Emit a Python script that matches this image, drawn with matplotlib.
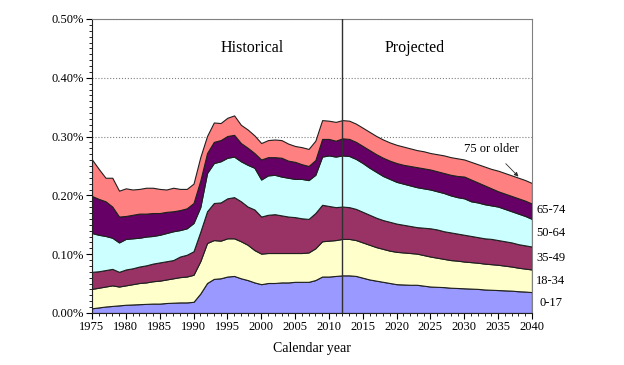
import numpy as np
import matplotlib
matplotlib.use("Agg")
import matplotlib.pyplot as plt
from matplotlib.ticker import MultipleLocator, FuncFormatter

plt.rcParams['font.family'] = ['Liberation Serif', 'DejaVu Serif']

years = list(range(1975, 2041))

# cumulative upper edge of each age band, in percent
edge_0_17 = [
    0.008, 0.0095, 0.011, 0.012, 0.013, 0.014, 0.0145, 0.015, 0.0155, 0.016,
    0.016, 0.017, 0.0175, 0.018, 0.018, 0.019, 0.033, 0.051, 0.058, 0.059,
    0.062, 0.063, 0.059, 0.056, 0.052, 0.049, 0.051, 0.051, 0.052, 0.052,
    0.053, 0.053, 0.053, 0.056, 0.062, 0.062, 0.063, 0.064, 0.064, 0.063,
    0.060, 0.057, 0.055, 0.053, 0.051, 0.049, 0.0485, 0.048, 0.048, 0.0465,
    0.045, 0.0445, 0.044, 0.043, 0.0425, 0.042, 0.0415, 0.041, 0.040, 0.0395,
    0.039, 0.0385, 0.038, 0.037, 0.0365, 0.0355,
]
edge_18_34 = [
    0.041, 0.043, 0.045, 0.047, 0.045, 0.047, 0.049, 0.051, 0.052, 0.054,
    0.055, 0.057, 0.059, 0.061, 0.062, 0.065, 0.088, 0.119, 0.124, 0.123,
    0.127, 0.127, 0.122, 0.116, 0.107, 0.101, 0.102, 0.102, 0.102, 0.102,
    0.102, 0.102, 0.103, 0.110, 0.122, 0.123, 0.124, 0.126, 0.126, 0.124,
    0.120, 0.116, 0.112, 0.109, 0.106, 0.104, 0.103, 0.102, 0.101, 0.0985,
    0.096, 0.094, 0.092, 0.090, 0.089, 0.0875, 0.0865, 0.0855, 0.084, 0.083,
    0.082, 0.0805, 0.079, 0.077, 0.0755, 0.074,
]
edge_35_49 = [
    0.070, 0.071, 0.073, 0.075, 0.070, 0.074, 0.076, 0.079, 0.081, 0.084,
    0.086, 0.088, 0.090, 0.096, 0.099, 0.105, 0.138, 0.173, 0.187, 0.188,
    0.195, 0.197, 0.190, 0.181, 0.176, 0.164, 0.167, 0.168, 0.166, 0.164,
    0.163, 0.161, 0.160, 0.170, 0.184, 0.182, 0.180, 0.181, 0.180, 0.177,
    0.172, 0.167, 0.162, 0.158, 0.155, 0.152, 0.150, 0.148, 0.146, 0.145,
    0.144, 0.142, 0.139, 0.137, 0.135, 0.133, 0.131, 0.129, 0.127, 0.126,
    0.124, 0.122, 0.120, 0.117, 0.115, 0.113,
]
edge_50_64 = [
    0.136, 0.133, 0.131, 0.128, 0.120, 0.126, 0.127, 0.128, 0.130, 0.131,
    0.133, 0.136, 0.139, 0.141, 0.144, 0.153, 0.180, 0.238, 0.255, 0.258,
    0.264, 0.266, 0.258, 0.252, 0.247, 0.227, 0.234, 0.235, 0.232, 0.230,
    0.228, 0.228, 0.226, 0.235, 0.266, 0.268, 0.266, 0.268, 0.267, 0.262,
    0.255, 0.247, 0.240, 0.233, 0.228, 0.223, 0.220, 0.217, 0.214, 0.212,
    0.210, 0.207, 0.204, 0.200, 0.197, 0.195, 0.190, 0.188, 0.185, 0.183,
    0.181, 0.177, 0.173, 0.169, 0.165, 0.160,
]
edge_65_74 = [
    0.199, 0.194, 0.190, 0.181, 0.164, 0.165, 0.167, 0.169, 0.169, 0.170,
    0.170, 0.172, 0.173, 0.175, 0.178, 0.187, 0.225, 0.272, 0.291, 0.294,
    0.301, 0.303, 0.289, 0.281, 0.272, 0.261, 0.265, 0.265, 0.264, 0.259,
    0.257, 0.253, 0.250, 0.260, 0.296, 0.296, 0.293, 0.297, 0.296, 0.291,
    0.284, 0.277, 0.270, 0.264, 0.259, 0.255, 0.252, 0.250, 0.248, 0.246,
    0.244, 0.241, 0.238, 0.235, 0.233, 0.232, 0.227, 0.222, 0.217, 0.212,
    0.207, 0.203, 0.199, 0.195, 0.191, 0.186,
]
edge_75_plus = [
    0.261, 0.245, 0.230, 0.230, 0.208, 0.212, 0.210, 0.211, 0.213, 0.213,
    0.211, 0.210, 0.213, 0.211, 0.211, 0.220, 0.265, 0.301, 0.324, 0.323,
    0.332, 0.336, 0.320, 0.312, 0.302, 0.289, 0.294, 0.295, 0.294, 0.288,
    0.284, 0.282, 0.279, 0.293, 0.328, 0.327, 0.325, 0.328, 0.327, 0.322,
    0.315, 0.308, 0.301, 0.295, 0.290, 0.286, 0.283, 0.280, 0.277, 0.275,
    0.272, 0.270, 0.268, 0.265, 0.263, 0.261, 0.257, 0.253, 0.249, 0.245,
    0.242, 0.238, 0.234, 0.230, 0.226, 0.221,
]

band_names = ['0-17', '18-34', '35-49', '50-64', '65-74', '75 or older']
band_colors = ['#9999ff', '#ffffcc', '#993366', '#ccffff', '#660066', '#ff8080']
split_year = 2012

edges = np.array([np.zeros(len(years)), edge_0_17, edge_18_34, edge_35_49,
                  edge_50_64, edge_65_74, edge_75_plus])
bands = np.diff(edges, axis=0)

fig = plt.figure(figsize=(6.24, 3.65), dpi=100)
ax = fig.add_axes([0.1474, 0.1425, 0.7051, 0.8055])

ax.stackplot(years, bands, colors=band_colors, edgecolor='#202020',
             linewidth=0.8, zorder=2)

ax.set_xlim(1975, 2040)
ax.set_ylim(0, 0.5)
ax.set_axisbelow(True)
ax.yaxis.grid(True, linestyle=':', color='#808080', linewidth=0.8)

ax.axvline(split_year, color='#303030', linewidth=1.0, zorder=3)

ax.xaxis.set_major_locator(MultipleLocator(5))
ax.xaxis.set_minor_locator(MultipleLocator(1))
ax.yaxis.set_major_locator(MultipleLocator(0.1))
ax.yaxis.set_minor_locator(MultipleLocator(0.01))
ax.yaxis.set_major_formatter(FuncFormatter(lambda v, _: f'{v:.2f}%'))
ax.tick_params(axis='both', which='major', direction='out', length=4,
               width=0.8, labelsize=9, pad=2)
ax.tick_params(axis='both', which='minor', direction='out', length=2.5,
               width=0.6)

for side in ['top', 'right']:
    ax.spines[side].set_color('#808080')
for side in ['left', 'bottom']:
    ax.spines[side].set_color('#202020')

ax.set_xlabel('Calendar year', fontsize=10, labelpad=6)

ax.text(1998.6, 0.451, 'Historical', fontsize=11.5, ha='center', va='center')
ax.text(2022.7, 0.451, 'Projected', fontsize=11.5, ha='center', va='center')

label_y = [0.017, 0.0545, 0.094, 0.136, 0.1755]
for name, y in zip(band_names[:5], label_y):
    ax.text(2042.8, y, name, fontsize=9, ha='center', va='center',
            clip_on=False)

ax.annotate('75 or older', xy=(2038.0, 0.232), xytext=(2034.0, 0.279),
            fontsize=9, ha='center', va='center',
            arrowprops=dict(arrowstyle='-|>', color='#303030', lw=0.6,
                            mutation_scale=6, shrinkA=6, shrinkB=0))

fig.savefig('out.png', dpi=100)
